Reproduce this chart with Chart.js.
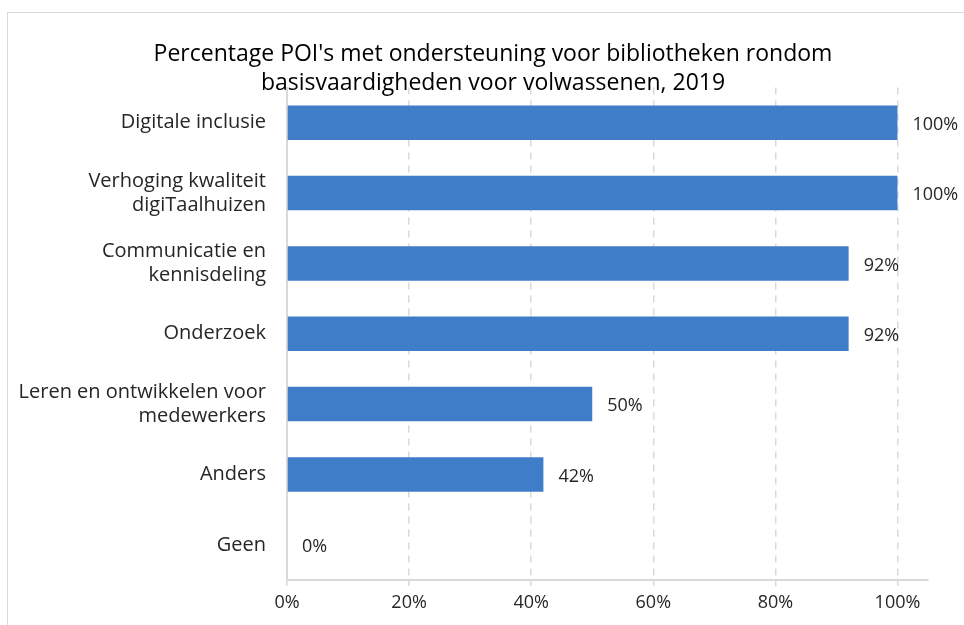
<!DOCTYPE html>
<html>
<head>
<meta charset="utf-8">
<script src="https://cdn.jsdelivr.net/npm/chart.js@4"></script>
<style>
  html, body { margin: 0; padding: 0; background: #fff; overflow: hidden; }
  #frame { position: absolute; left: 7px; top: 12px; width: 1100px; height: 800px; border: 1px solid #d9d9d9; }
  #wrap { position: absolute; left: 8px; top: 12px; width: 970px; height: 613px; }
</style>
</head>
<body>
<div id="frame"></div>
<div id="wrap"><canvas id="chartCanvas"></canvas></div>
<script>
var categorieen = [
    "Digitale inclusie",
    ["Verhoging kwaliteit", "digiTaalhuizen"],
    ["Communicatie en", "kennisdeling"],
    "Onderzoek",
    ["Leren en ontwikkelen voor", "medewerkers"],
    "Anders",
    "Geen"
];
var percentages = [100, 100, 92, 92, 50, 42, 0];
var tickWaarden = [0, 20, 40, 60, 80, 100];

var tekstKleur = "#262626";
var lijnKleur = "#d9d9d9";
var lettertype = "'Open Sans'";

// labels achter de balken
var waardeLabels = {
    id: "waardeLabels",
    afterLayout: function (chart) {
        // titel iets naar rechts, zoals in het origineel
        if (chart.titleBlock) {
            chart.titleBlock.left += 25;
            chart.titleBlock.right += 25;
        }
    },
    afterDatasetsDraw: function (chart) {
        var ctx = chart.ctx;
        var meta = chart.getDatasetMeta(0);
        ctx.save();
        ctx.font = "18px " + lettertype;
        ctx.fillStyle = tekstKleur;
        ctx.textBaseline = "middle";
        ctx.textAlign = "left";
        meta.data.forEach(function (bar, i) {
            ctx.fillText(percentages[i] + "%", bar.x + 15, bar.y + 2);
        });
        ctx.restore();
    }
};

new Chart(document.getElementById("chartCanvas"), {
    type: "bar",
    data: {
        labels: categorieen,
        datasets: [{
            data: percentages,
            backgroundColor: "#3f7dc8",
            barPercentage: 0.7,
            categoryPercentage: 0.7
        }]
    },
    plugins: [waardeLabels],
    options: {
        indexAxis: "y",
        responsive: true,
        maintainAspectRatio: false,
        animation: false,
        layout: { padding: { right: 50, top: 0, left: 0, bottom: 0 } },
        plugins: {
            legend: { display: false },
            tooltip: { enabled: false },
            title: {
                display: true,
                text: ["Percentage POI's met ondersteuning voor bibliotheken rondom", "basisvaardigheden voor volwassenen, 2019"],
                color: "#000",
                font: { family: lettertype, size: 23, weight: "normal", lineHeight: 1.25 },
                padding: { top: 28, bottom: -10 }
            }
        },
        scales: {
            x: {
                min: 0,
                max: 105,
                afterBuildTicks: function (scale) {
                    scale.ticks = tickWaarden.map(function (v) { return { value: v }; });
                },
                afterFit: function (scale) { scale.height = 45; },
                ticks: {
                    color: tekstKleur,
                    font: { family: lettertype, size: 18 },
                    padding: 6,
                    callback: function (v) { return v + "%"; }
                },
                grid: {
                    color: lijnKleur,
                    lineWidth: 1.5,
                    tickLength: 6,
                    tickColor: lijnKleur
                },
                border: { display: true, color: lijnKleur, width: 2, dash: [7, 6] }
            },
            y: {
                afterFit: function (scale) { scale.width = 279; },
                ticks: {
                    color: tekstKleur,
                    font: { family: lettertype, size: 20, lineHeight: 1.2 },
                    padding: 13
                },
                grid: { display: false },
                border: { display: true, color: lijnKleur, width: 2 }
            }
        }
    }
});
</script>
</body>
</html>
